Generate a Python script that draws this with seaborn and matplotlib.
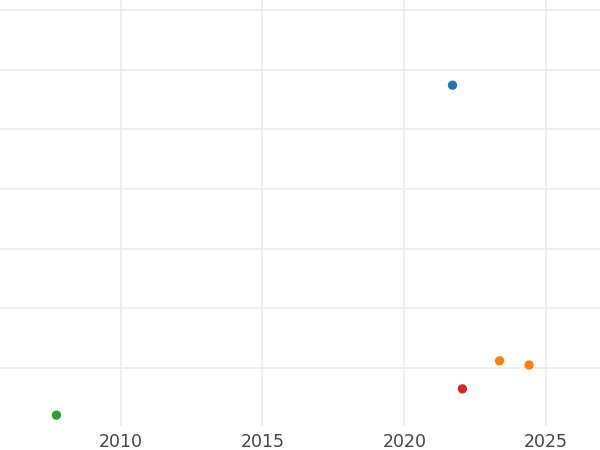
import matplotlib
matplotlib.use("Agg")
import matplotlib.pyplot as plt
import pandas as pd
import seaborn as sns

# valeurs
annees = [2021.7, 2023.36, 2024.4, 2022.05, 2007.74]
valeurs = [47.4, 1.2, 0.5, -3.5, -7.9]
groupes = ["A", "B", "B", "D", "C"]
ordre_groupes = ["A", "B", "C", "D"]
xticks = [2010, 2015, 2020, 2025]
yticks = [0, 10, 20, 30, 40, 50, 60]

df = pd.DataFrame({"annee": annees, "valeur": valeurs, "groupe": groupes})

sns.set_style("white")
fig = plt.figure(figsize=(6, 4.5), dpi=100)
ax = fig.add_axes([0, 1 - 426 / 450, 1, 426 / 450])

sns.scatterplot(
    data=df,
    x="annee",
    y="valeur",
    hue="groupe",
    hue_order=ordre_groupes,
    palette="tab10",
    s=45,
    linewidth=0,
    legend=False,
    ax=ax,
    zorder=3,
)

ax.set_xlim(2005.75, 2026.9)
ax.set_ylim(-9.72, 61.67)
ax.set_xticks(xticks)
ax.set_yticks(yticks)
ax.set_yticklabels([])
ax.grid(True, color="#ebebeb", linewidth=1.2)
ax.set_axisbelow(True)
ax.tick_params(axis="x", length=0, pad=5, labelsize=12.5, labelcolor="#444444")
ax.tick_params(axis="y", length=0)
ax.set_xlabel("")
ax.set_ylabel("")
for sp in ax.spines.values():
    sp.set_visible(False)

fig.savefig("out.png", dpi=100)
